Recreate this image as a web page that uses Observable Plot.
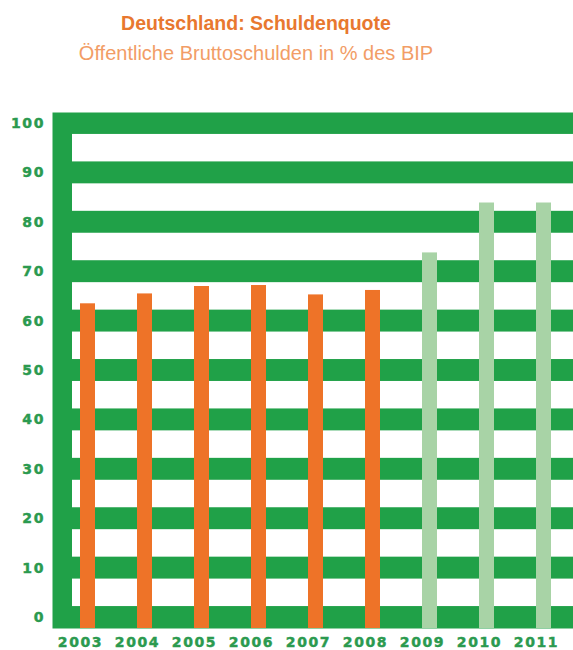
<!DOCTYPE html>
<html>
<head>
<meta charset="utf-8">
<script src="https://cdn.jsdelivr.net/npm/d3@7"></script>
<script src="https://cdn.jsdelivr.net/npm/@observablehq/plot@0.6"></script>
<style>
  html, body { margin: 0; padding: 0; background: #fff; }
  #wrap { width: 573px; }
  #head { position: relative; height: 100px; width: 573px; }
  #title, #subtitle { position: absolute; left: 0; width: 512px; text-align: center;
    font-family: "Liberation Sans", Arial, sans-serif; line-height: 1; white-space: nowrap; }
  #title { top: 14px; font-size: 19.5px; font-weight: bold; color: #e8782f; }
  #subtitle { top: 43px; font-size: 20px; font-weight: normal; color: #f29d66; }
  #chart svg { overflow: visible; }
  #chart svg text { font-size: 14px; font-weight: bold; font-family: "DejaVu Sans", sans-serif;
    letter-spacing: 1.6px; stroke: #2b9a4f; stroke-width: 0.45px; }
</style>
</head>
<body>
<div id="wrap">
  <div id="head">
    <div id="title">Deutschland: Schuldenquote</div>
    <div id="subtitle">Öffentliche Bruttoschulden in % des BIP</div>
  </div>
  <div id="chart"></div>
</div>
<script>
const years  = ["2003","2004","2005","2006","2007","2008","2009","2010","2011"];
const values = [63.5, 65.5, 67, 67.2, 65.3, 66.2, 73.8, 83.9, 83.9];
const kinds  = ["Ist","Ist","Ist","Ist","Ist","Ist","Prognose","Prognose","Prognose"];
const yTicks = [0, 10, 20, 30, 40, 50, 60, 70, 80, 90, 100];

const GREEN = "#20a148";
const LABEL_GREEN = "#2b9a4f";
const ORANGE = "#ee7328";
const LIGHT_GREEN = "#a8d3a6";
const HALF = 2.22; // half thickness of each green band, in % units

const data = years.map((y, i) => ({year: y, value: values[i], kind: kinds[i]}));
const gaps = yTicks.slice(0, -1);

const chart = Plot.plot({
  width: 573,
  height: 550,
  marginTop: 12,
  marginBottom: 22,
  marginLeft: 52,
  marginRight: 0,
  style: {fontFamily: "DejaVu Sans", fontSize: "14px", background: "white"},
  x: {type: "band", domain: years, range: [72, 559.5], paddingInner: 0.731, paddingOuter: 0.1, align: 0.5, label: null},
  y: {domain: [-HALF, 100 + HALF], label: null},
  color: {domain: ["Ist", "Prognose"], range: [ORANGE, LIGHT_GREEN]},
  marks: [
    Plot.frame({fill: GREEN, stroke: "none"}),
    Plot.rect(gaps, {y1: d => d + HALF, y2: d => d + 10 - HALF, fill: "white", insetLeft: 20}),
    Plot.barY(data, {x: "year", y1: () => -HALF, y2: "value", fill: "kind"}),
    Plot.axisY({ticks: yTicks, tickSize: 0, tickPadding: 7.5, fontSize: 14, fontWeight: "bold", fill: LABEL_GREEN, label: null}),
    Plot.axisX({tickSize: 0, tickPadding: 9, fontSize: 14, fontWeight: "bold", fill: LABEL_GREEN, dx: -7.5, label: null})
  ]
});
document.getElementById("chart").appendChild(chart);
</script>
</body>
</html>
